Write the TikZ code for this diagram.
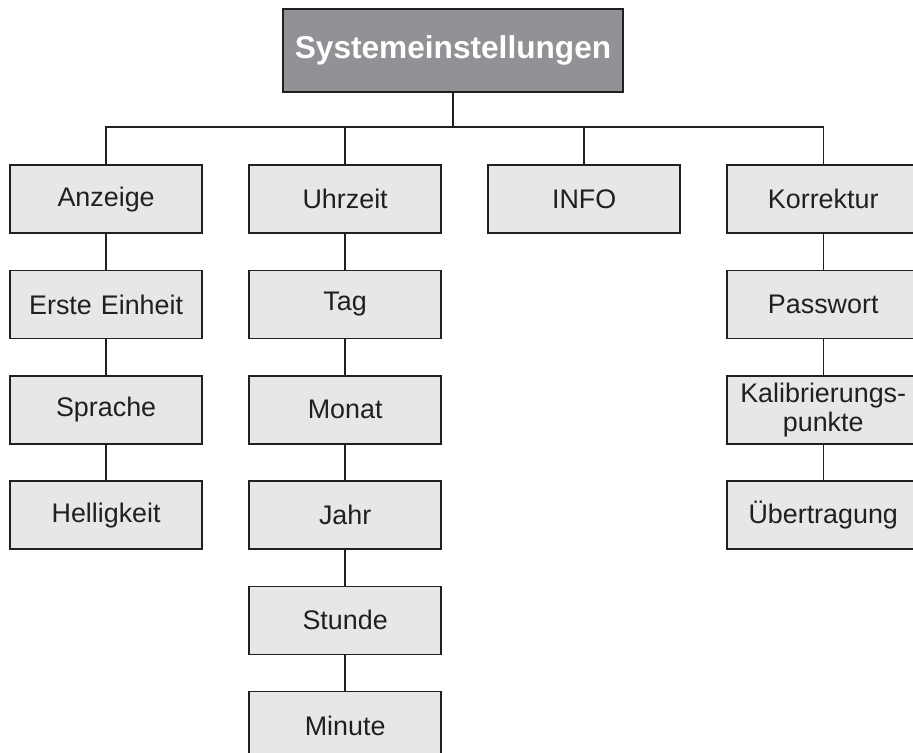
\documentclass[tikz,border=0pt]{standalone}
\usepackage{fontspec}
\setmainfont{Liberation Sans}
\definecolor{boxgray}{RGB}{230,231,232}
\definecolor{topgray}{RGB}{145,146,149}
\definecolor{linedark}{RGB}{35,31,32}

\begin{document}
\begin{tikzpicture}
[x=0.02cm, y=-0.02cm,
top/.style ={rectangle, draw=linedark, line width=0.9pt, fill=topgray,
text=white, font=\bfseries\fontsize{18}{22}\selectfont,
minimum width=6.8cm, minimum height=1.66cm, inner sep=0pt},
item/.style ={rectangle, draw=linedark, line width=0.9pt, fill=boxgray,
text=linedark, text width=3.6cm, align=center, inner sep=0pt,
minimum width=3.84cm, minimum height=1.36cm,
font=\fontsize{15.3}{16.5}\selectfont},
line/.style ={draw=linedark, line width=0.8pt}]
\path [use as bounding box, clip] (0,0) rectangle (913,753);
\node [top] (sys) at (453,50.5) {Systemeinstellungen};
\matrix [anchor=north west, inner sep=0pt, column sep=0.91cm, row sep=0.715cm] at (9,164)
{
% row 1 has the four menu entries
\node [item] (anz)  {Anzeige}; &
\node [item] (uhr)  {Uhrzeit}; &
\node [item] (info) {INFO}; &
\node [item] (korr) {Korrektur}; \\
% row 2 has a blank thingy under INFO
\node [item] (erst) {Erste Einheit}; &
\node [item] (tag)  {Tag}; & &
\node [item] (pass) {Passwort}; \\
% row 3
\node [item] (spr)  {Sprache}; &
\node [item] (mon)  {Monat}; & &
\node [item] (kal)  {Kalibrierungs-\\punkte}; \\
% row 4
\node [item] (hel)  {Helligkeit}; &
\node [item] (jahr) {Jahr}; & &
\node [item] (uebt) {Übertragung}; \\
% row 5 only the time column goes on
& \node [item] (std) {Stunde}; & & \\
% row 6
& \node [item] (min) {Minute}; & & \\
};
\coordinate (bus) at (453,127);
\begin{scope}[every path/.style=line]
\path (sys.south) -- (bus);
\path (anz) |- (bus) -| (korr);
\path (uhr)  -- (uhr |- bus);
\path (info) -- (info |- bus);
\path (anz) -- (erst) -- (spr) -- (hel);
\path (uhr) -- (tag) -- (mon) -- (jahr) -- (std) -- (min);
\path (korr) -- (pass) -- (kal) -- (uebt);
\end{scope}
\end{tikzpicture}
\end{document}
